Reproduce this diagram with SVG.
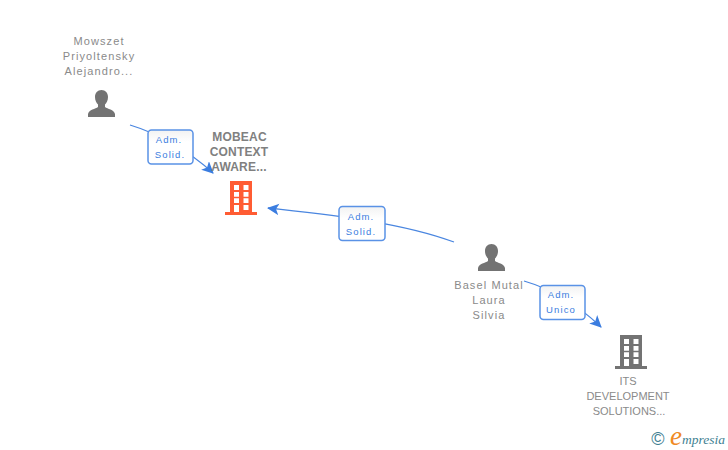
<svg xmlns="http://www.w3.org/2000/svg" width="728" height="450" viewBox="0 0 728 450">
<style>
text{font-family:"Liberation Sans",Arial,sans-serif}
.n{font-size:11px;fill:#8a8a8a;text-anchor:middle;letter-spacing:1.1px}
.caps{letter-spacing:0}
.b{font-size:12px;font-weight:bold;fill:#808080;text-anchor:middle;letter-spacing:.2px}
.l{font-size:9.500px;fill:#3b7de0;text-anchor:middle;letter-spacing:1.1px}
.c{fill:none;stroke:#4a86e0;stroke-width:1.300}
.box{fill:url(#g);stroke:#5a92e6;stroke-width:1.500}
</style>
<defs>
<linearGradient id="g" x1="0" y1="0" x2="0" y2="1"><stop offset="0" stop-color="#f2f2f2"/><stop offset=".35" stop-color="#fff"/></linearGradient>
<marker id="a" markerWidth="13" markerHeight="12" refX="11" refY="6" orient="auto" markerUnits="userSpaceOnUse"><path d="M0 0L12 6L0 11.500L3 6Z" fill="#3b7de0"/></marker>
<path id="person" d="M13.500 0C9.500 0 7 3 7 7C7 10.500 8.500 13 10 14.500V17C7.500 19 1 19.500 0 24V27H27V24C26 19.500 19.500 19 17 17V14.500C18.500 13 20 10.500 20 7C20 3 17.500 0 13.500 0Z"/>
<path id="building" fill-rule="evenodd" d="M5 0H27V31H32V34H0V31H5ZM9 4V9H14V4ZM18.500 4V9H23.500V4ZM9 11V15.700H14V11ZM18.500 11V15.700H23.500V11ZM9 17.300V22H14V17.300ZM18.500 17.300V22H23.500V17.300ZM9 24V31H14V24ZM18.500 24V29H23.500V24Z"/>
</defs>
<rect width="728" height="450" fill="#fff"/>
<g id="connectors">
<path class="c" d="M130 125C160 134 190 152 213 173" marker-end="url(#a)"/>
<path class="c" d="M454 242C400 222 330 215 268 208" marker-end="url(#a)"/>
<path class="c" d="M524 281C555 290 580 307 601 327" marker-end="url(#a)"/>
</g>
<g id="node-mowszet">
<text class="n" x="99" y="45">Mowszet</text><text class="n" x="99" y="60">Priyoltensky</text><text class="n" x="99" y="75">Alejandro...</text>
<use href="#person" x="88" y="90" fill="#737373"/>
</g>
<g id="node-mobeac">
<text class="b" x="239.500" y="141">MOBEAC</text><text class="b" x="239" y="156">CONTEXT</text><text class="b" x="239" y="171">AWARE...</text>
<use href="#building" x="225" y="181" fill="#ff5c33"/>
</g>
<g id="node-basel">
<use href="#person" x="478" y="244" fill="#737373"/>
<text class="n" x="489" y="289">Basel Mutal</text><text class="n" x="489" y="304">Laura</text><text class="n" x="489" y="319">Silvia</text>
</g>
<g id="node-its">
<use href="#building" x="615" y="335" fill="#737373"/>
<text class="n caps" x="628" y="385">ITS</text><text class="n caps" x="628" y="400">DEVELOPMENT</text><text class="n caps" x="629" y="415">SOLUTIONS...</text>
</g>
<g id="label-1"><rect class="box" x="148" y="130" width="45" height="34" rx="3.500"/><text class="l" x="169" y="143">Adm.</text><text class="l" x="170" y="158">Solid.</text></g>
<g id="label-2"><rect class="box" x="339" y="206.500" width="46" height="34" rx="3.500"/><text class="l" x="361" y="220">Adm.</text><text class="l" x="361" y="235">Solid.</text></g>
<g id="label-3"><rect class="box" x="540" y="285.500" width="45" height="34" rx="3.500"/><text class="l" x="561" y="298">Adm.</text><text class="l" x="561" y="313">Unico</text></g>
<g id="logo">
<text x="658" y="445" font-size="18" fill="#3f7f92" text-anchor="middle">©</text>
<text x="670" y="445" font-size="27" fill="#f08a24" font-style="italic" style="font-family:'Liberation Serif',serif">e</text>
<text x="682" y="444" font-size="13.500" fill="#3f7f92" font-style="italic" style="font-family:'Liberation Serif',serif">mpresia</text>
</g>
</svg>
